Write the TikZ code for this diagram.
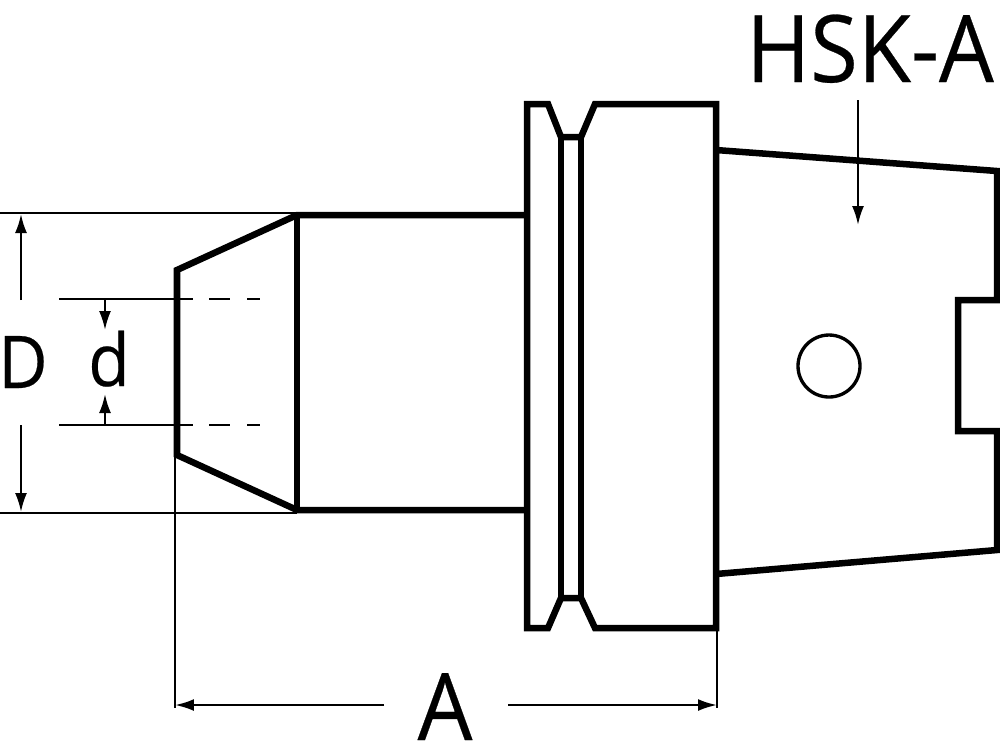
\documentclass[tikz,border=0pt]{standalone}
\usepackage{fontspec}
\setmainfont[FakeStretch=0.93,FakeBold=0.3]{Open Sans}
\usetikzlibrary{arrows.meta}
\tikzset{
outline/.style={line width=1.85pt, black, line join=miter},
thin line/.style={line width=0.65pt, black},
dim arrow/.style={thin line, -{Latex[length=5.4pt,width=3.4pt]}},
big label/.style={anchor=base, inner sep=0pt, font=\fontsize{26.5pt}{26.5pt}\selectfont},
mid label/.style={anchor=base, inner sep=0pt, font=\fontsize{20.7pt}{20.7pt}\selectfont},
}

\begin{document}
\begin{tikzpicture}[x=0.01cm, y=-0.01cm]
\useasboundingbox (0, 0) rectangle (1000, 741);
% labels
\node[big label] (hska) at (870, 82) {HSK-A};
\node[big label] (lenA) at (445, 740) {A};
\node[mid label] (diaD) at (23, 388) {D};
\node[mid label] (diad) at (109, 386) {d};
% flange
\draw[outline]
(527, 104) -- (548, 104) -- (561, 137) -- (581, 137) -- (595, 104)
-- (716, 104) -- (716, 628) -- (595, 628) -- (581, 598) -- (561, 598)
-- (548, 628) -- (527, 628) -- cycle;
\draw[outline] (561, 137) -- (561, 598);
\draw[outline] (581, 137) -- (581, 598);
% shaft and nose
\draw[outline]
(527, 215) -- (297, 215) -- (177, 270) -- (177, 455) -- (297, 510) -- (527, 510);
\draw[outline] (297, 215) -- (297, 510);
% taper
\draw[outline]
(716, 150) -- (997, 171) -- (997, 300) -- (958, 300) -- (958, 431) -- (997, 431)
-- (997, 550) -- (716, 574);
\draw[line width=0.95pt, black] (829, 366) circle (31);
% extension lines
\draw[thin line] (0, 213) -- (297, 213);
\draw[thin line] (0, 513) -- (297, 513);
\draw[thin line] (175, 270) -- (175, 708);
\draw[thin line] (717, 628) -- (717, 708);
\foreach \ypos in {299, 425} {
\draw[thin line] (59, \ypos) -- (193, \ypos);
\draw[thin line] (209, \ypos) -- (230, \ypos);
\draw[thin line] (247, \ypos) -- (260, \ypos);
}
% dimension arrows
\coordinate (lenAleft) at (175, 705);
\coordinate (lenAright) at (717, 705);
\coordinate (lenAstartl) at (384, 705);
\coordinate (lenAstartr) at (508, 705);
\draw[dim arrow] (lenAstartl) -- (lenAleft);
\draw[dim arrow] (lenAstartr) -- (lenAright);
\coordinate (diaDtop) at (21, 214);
\coordinate (diaDbot) at (21, 512);
\coordinate (diaDstartt) at (21, 300);
\coordinate (diaDstartb) at (21, 425);
\draw[dim arrow] (diaDstartt) -- (diaDtop);
\draw[dim arrow] (diaDstartb) -- (diaDbot);
\coordinate (diadtop) at (105, 299);
\coordinate (diadbot) at (105, 425);
\coordinate (diadendt) at (105, 330);
\coordinate (diadendb) at (105, 394);
\draw[dim arrow] (diadtop) -- (diadendt);
\draw[dim arrow] (diadbot) -- (diadendb);
\coordinate (hskastart) at (858, 100);
\coordinate (hskaend) at (858, 225);
\draw[dim arrow] (hskastart) -- (hskaend);
\end{tikzpicture}
\end{document}
